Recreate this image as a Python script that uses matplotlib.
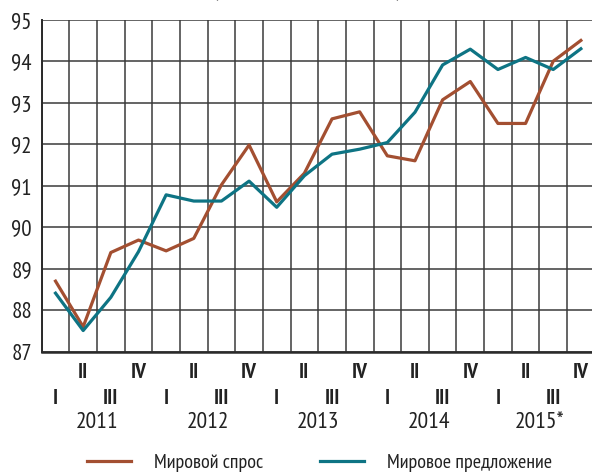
import matplotlib
matplotlib.use("Agg")
import matplotlib.pyplot as plt
import matplotlib.transforms as mtransforms

quarters = ["I", "II", "III", "IV"] * 5
years = ["2011", "2012", "2013", "2014", "2015*"]
demand = [88.70, 87.60, 89.39, 89.69, 89.43, 89.73, 91.02, 91.98, 90.61, 91.30,
          92.61, 92.78, 91.72, 91.60, 93.07, 93.51, 92.50, 92.50, 94.00, 94.50]
supply = [88.41, 87.51, 88.31, 89.41, 90.78, 90.63, 90.63, 91.11, 90.48, 91.24,
          91.76, 91.88, 92.04, 92.77, 93.91, 94.29, 93.80, 94.09, 93.80, 94.30]
yticks = [87, 88, 89, 90, 91, 92, 93, 94, 95]
labels = ["Мировой спрос", "Мировое предложение"]

FONT = ["PT Sans Narrow", "DejaVu Sans"]
plt.rcParams["font.family"] = FONT
TXT = "#222222"

fig = plt.figure(figsize=(5.92, 4.75), dpi=100)
ax = fig.add_axes([41.7 / 592, 123.3 / 475, 553 / 592, 332 / 475])

n = len(demand)
x = list(range(n))
ax.set_xlim(-0.5, n - 0.5)
ax.set_ylim(87, 95)

# grid
for k in range(n + 1):
    ax.axvline(k - 0.5, color="#3a3a3a", lw=1.1, zorder=1)
for v in yticks:
    ax.axhline(v, color="#3a3a3a", lw=1.1, zorder=1)

l1, = ax.plot(x, demand, color="#A34F31", lw=2.3, zorder=3, label=labels[0])
l2, = ax.plot(x, supply, color="#0E7484", lw=2.3, zorder=3, label=labels[1])

for s in ["top", "right"]:
    ax.spines[s].set_visible(False)
ax.spines["left"].set_color("#2a2a2a")
ax.spines["left"].set_linewidth(1.4)
ax.spines["bottom"].set_color("#2a2a2a")
ax.spines["bottom"].set_linewidth(1.8)

ax.set_yticks(yticks)
ax.set_yticklabels([str(v) for v in yticks], fontsize=16.5, color=TXT)
ax.tick_params(axis="y", length=0, pad=7)
ax.set_xticks([])

trans = mtransforms.blended_transform_factory(ax.transData, fig.transFigure)
for i, q in enumerate(quarters):
    ypix = 373 if i % 2 == 1 else 398
    ax.text(i, 1 - ypix / 475, q, transform=trans, ha="center", va="center",
            fontsize=15.5, fontweight="bold", color=TXT)
for j, yr in enumerate(years):
    ax.text(4 * j + 1.5, 1 - 422 / 475, yr, transform=trans, ha="center",
            va="center", fontsize=17, color=TXT)

# partially cropped title at top
fig.text(0.52, 1.009, "(млн баррелей в сутки)", ha="center", va="baseline",
         fontsize=16, fontweight="bold", color=TXT)

fig.legend(handles=[l1, l2], loc="center", bbox_to_anchor=(0.54, 1 - 463 / 475),
           ncol=2, frameon=False, fontsize=14.5, handlelength=2.2,
           handletextpad=1.15, columnspacing=2.8, labelcolor=TXT)

fig.savefig("out.png", dpi=100)
